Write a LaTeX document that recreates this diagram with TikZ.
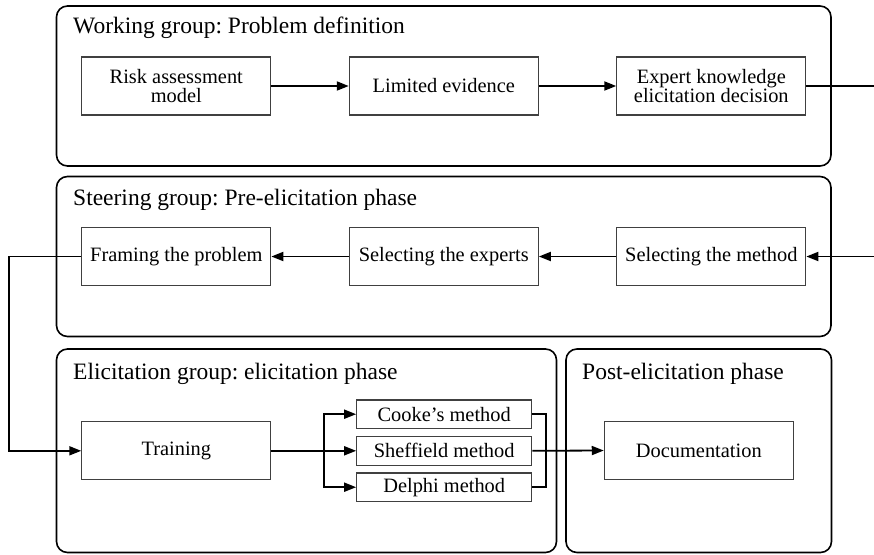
\documentclass[tikz,border=0pt]{standalone}
\usepackage{fontspec}
\setmainfont{Liberation Serif}
\usetikzlibrary{arrows.meta}
\frenchspacing
\begin{document}
\begin{tikzpicture}[x=1pt,y=-1pt,
  grp/.style={draw=black, line width=1.6pt, rounded corners=11pt},
  gtitle/.style={anchor=base west, inner sep=0pt, font=\fontsize{23.5}{26}\selectfont\frenchspacing},
  box/.style={draw=black!75, line width=1.1pt, minimum width=189pt, minimum height=58pt, inner sep=2pt, align=center, font=\fontsize{20.4}{18.5}\selectfont},
  mbox/.style={draw=black!75, line width=1.1pt, minimum width=175pt, minimum height=28.5pt, inner sep=1pt, font=\fontsize{20.4}{22}\selectfont},
  conn/.style={line width=1.8pt, -{Triangle[length=12pt,width=9pt]}},
  line/.style={line width=1.8pt}]
\useasboundingbox (0,0) rectangle (874,554);
% groups
\draw[grp] (56.5,6) rectangle (831,166);
\draw[grp] (56.5,176.5) rectangle (831,336.5);
\draw[grp] (56.5,349) rectangle (556.5,552.5);
\draw[grp] (566,349) rectangle (831.5,552.5);
\node[gtitle] (t1) at (73,33) {Working group: Problem definition};
\node[gtitle] (t2) at (73,205) {Steering group: Pre-elicitation phase};
\node[gtitle] (t3) at (73,379) {Elicitation group: elicitation phase};
\node[gtitle] (t4) at (582,379) {Post-elicitation phase};
% boxes
\node[box] (risk) at (176.3,86) {Risk assessment\\model};
\node[box] (lim) at (443.8,86) {Limited evidence};
\node[box] (exp) at (711.3,86) {Expert knowledge\\elicitation decision};
\node[box] (frame) at (176.3,256.5) {Framing the problem};
\node[box] (sel) at (443.8,256.5) {Selecting the experts};
\node[box] (meth) at (711.3,256.5) {Selecting the method};
\node[box] (train) at (176.3,450.8) {Training};
\node[box] (doc) at (698.8,450.5) {Documentation};
\node[mbox] (cooke) at (444.2,414.2) {Cooke's method};
\node[mbox] (sheff) at (444.2,450.8) {Sheffield method};
\node[mbox] (delphi) at (444.2,487.2) {Delphi method};
% coordinates
\coordinate (rc) at (892,170);
\coordinate (lc) at (9,350);
\coordinate (bx) at (324,450.8);
\coordinate (mx) at (545.7,450.8);
% connectors
\draw[conn] (risk.east) -- (lim.west);
\draw[conn] (lim.east) -- (exp.west);
\draw[conn] (exp.east) -| (rc) |- (meth.east);
\draw[conn] (meth.west) -- (sel.east);
\draw[conn] (sel.west) -- (frame.east);
\draw[conn] (frame.west) -| (lc) |- (train.west);
\draw[conn] (train.east) -- (sheff.west);
\draw[conn] (bx) |- (cooke.west);
\draw[conn] (bx) |- (delphi.west);
\draw[line] (cooke.east) -| (mx);
\draw[line] (delphi.east) -| (mx);
\draw[conn] (sheff.east) -- (doc.west);
\end{tikzpicture}
\end{document}
